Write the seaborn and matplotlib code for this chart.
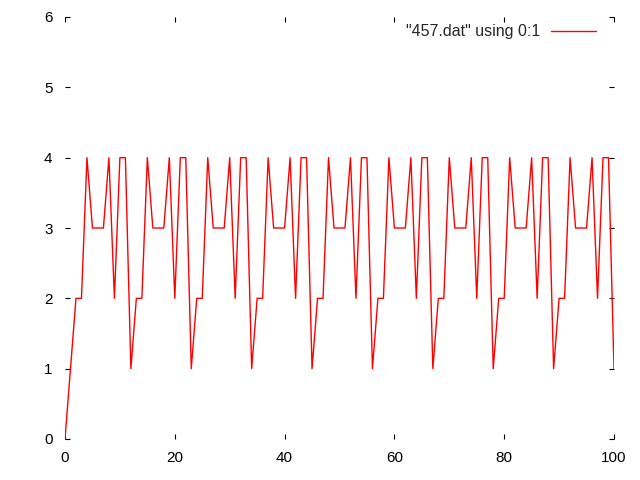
import matplotlib
matplotlib.use("Agg")
import matplotlib.pyplot as plt
import seaborn as sns
import pandas as pd

values = [0,
          1, 2, 2, 4, 3, 3, 3, 4, 2, 4, 4,
          1, 2, 2, 4, 3, 3, 3, 4, 2, 4, 4,
          1, 2, 2, 4, 3, 3, 3, 4, 2, 4, 4,
          1, 2, 2, 4, 3, 3, 3, 4, 2, 4, 4,
          1, 2, 2, 4, 3, 3, 3, 4, 2, 4, 4,
          1, 2, 2, 4, 3, 3, 3, 4, 2, 4, 4,
          1, 2, 2, 4, 3, 3, 3, 4, 2, 4, 4,
          1, 2, 2, 4, 3, 3, 3, 4, 2, 4, 4,
          1, 2, 2, 4, 3, 3, 3, 4, 2, 4, 4,
          1]
index = list(range(len(values)))
series_label = '"457.dat" using 0:1'
x_ticks = [0, 20, 40, 60, 80, 100]
y_ticks = [0, 1, 2, 3, 4, 5, 6]

sns.set_style("white")
plt.rcParams['font.family'] = ['Liberation Sans', 'DejaVu Sans']

df = pd.DataFrame({"x": index, "y": values})

fig = plt.figure(figsize=(6.4, 4.8), dpi=100)
ax = fig.add_axes([65/640, 1-439/480, (614-65)/640, (439-17)/480])
sns.lineplot(data=df, x="x", y="y", ax=ax, color="#ff0000", linewidth=1.0,
             label=series_label)

ax.set_xlim(0, 100)
ax.set_ylim(0, 6)
ax.set_xticks(x_ticks)
ax.set_yticks(y_ticks)
ax.set_xlabel("")
ax.set_ylabel("")
for s in ax.spines.values():
    s.set_visible(False)
ax.tick_params(direction="in", length=3.6, width=0.8, color="black",
               top=True, right=True, bottom=True, left=True,
               labelsize=11, labelcolor="black")
ax.tick_params(axis="y", pad=9)
ax.tick_params(axis="x", pad=9)

leg = ax.legend(loc="upper right", bbox_to_anchor=(0.979, 0.998), frameon=False,
                borderaxespad=0, markerfirst=False, handlelength=2.8,
                handletextpad=0.7, fontsize=11.5)

fig.savefig("out.png", dpi=100)
